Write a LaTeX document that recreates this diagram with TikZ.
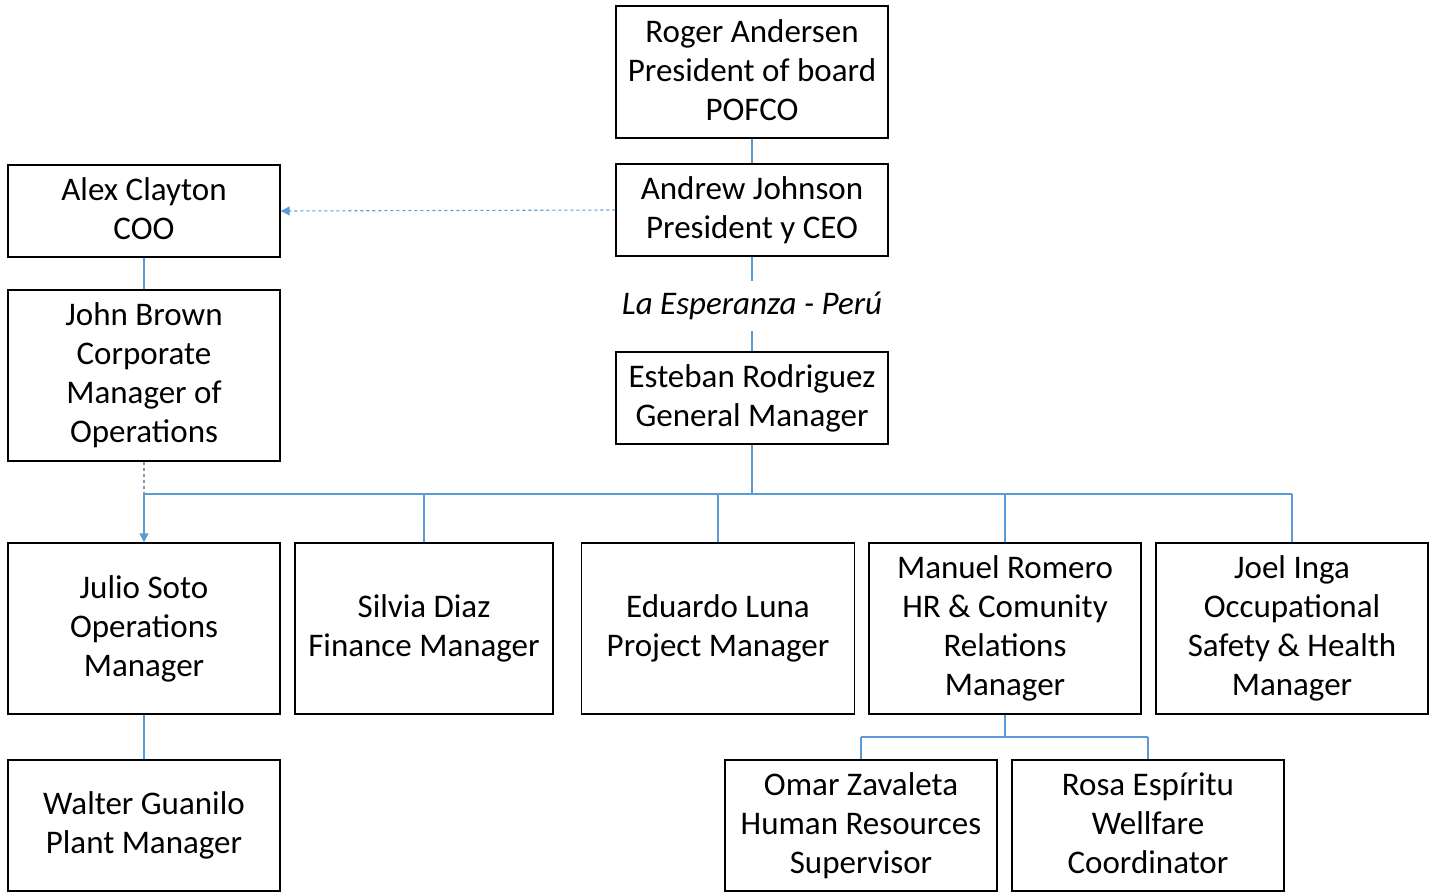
\documentclass[tikz,border=0pt]{standalone}
\usepackage{fontspec}
\setmainfont{Carlito}
\usetikzlibrary{arrows.meta}
\definecolor{linkblue}{HTML}{5B9BD5}
\definecolor{linkgray}{HTML}{8497B0}

\begin{document}
\begin{tikzpicture}[x=1pt,y=-1pt,
  orgbox/.style={draw=black,line width=1.4pt,align=center,inner sep=2pt,
    minimum width=272pt,font=\fontsize{33}{39}\selectfont,
    execute at begin node={\rule{0pt}{35pt}},
    execute at end node={\rule[-4pt]{0pt}{4pt}}},
  link/.style={draw=linkblue,line width=1.1pt},
  dotlink/.style={draw=linkblue,line width=1.1pt,dashed,-{Triangle[length=9pt,width=9pt]}}]
\useasboundingbox (0,0) rectangle (1435,893);
% top of the chart
\node[orgbox,minimum height=132pt] (roger) at (752,72) {Roger Andersen\\President of board\\POFCO};
\node[orgbox,minimum height=92pt] (andrew) at (752,210) {Andrew Johnson\\President y CEO};
\node[font=\fontsize{33}{39}\selectfont\itshape,minimum height=50pt,inner sep=0pt] (place) at (752,306) {La Esperanza - Perú};
\node[orgbox,minimum height=92pt] (esteban) at (752,398) {Esteban Rodriguez\\General Manager};
% left column
\node[orgbox,minimum height=92pt] (alex) at (144,211) {Alex Clayton\\COO};
\node[orgbox,minimum height=171pt] (john) at (144,375.5) {John Brown\\Corporate\\Manager of\\Operations};
% managers
\node[orgbox,minimum height=171pt] (julio) at (144,628.5) {Julio Soto\\Operations\\Manager};
\node[orgbox,minimum height=171pt,minimum width=258pt] (silvia) at (424,628.5) {Silvia Diaz\\Finance Manager};
\node[orgbox,minimum height=171pt,minimum width=273pt] (eduardo) at (718,628.5) {Eduardo Luna\\Project Manager};
\node[orgbox,minimum height=171pt] (manuel) at (1005,628.5) {Manuel Romero\\HR \& Comunity\\Relations\\Manager};
\node[orgbox,minimum height=171pt] (joel) at (1292,628.5) {Joel Inga\\Occupational\\Safety \& Health\\Manager};
% bottom row
\node[orgbox,minimum height=131pt] (walter) at (144,825.5) {Walter Guanilo\\Plant Manager};
\node[orgbox,minimum height=131pt] (omar) at (861,825.5) {Omar Zavaleta\\Human Resources\\Supervisor};
\node[orgbox,minimum height=131pt] (rosa) at (1148,825.5) {Rosa Espíritu\\Wellfare\\Coordinator};
% connectors
\coordinate (bus) at (752,494);
\coordinate (split) at (1005,737);
\draw[link] (roger) -- (andrew);
\draw[dotlink] (andrew.west) -- (alex.east);
\draw[link] (alex) -- (john);
\draw[link] (andrew) -- (place);
\draw[link] (place) -- (esteban);
\draw[link] (esteban) -- (bus);
\draw[link] (julio.north |- bus) -- (joel.north |- bus);
\draw[link,-{Triangle[length=9pt,width=9pt]}] (julio.north |- bus) -- (julio.north);
\draw[draw=linkgray,line width=1.1pt,dashed] (john) -- (julio.north |- bus);
\foreach \n in {silvia,eduardo,manuel,joel}
  \draw[link] (\n.north |- bus) -- (\n.north);
\draw[link] (julio) -- (walter);
\draw[link] (manuel) -- (split);
\draw[link] (omar.north |- split) -- (rosa.north |- split);
\draw[link] (omar.north |- split) -- (omar.north);
\draw[link] (rosa.north |- split) -- (rosa.north);
\end{tikzpicture}
\end{document}
